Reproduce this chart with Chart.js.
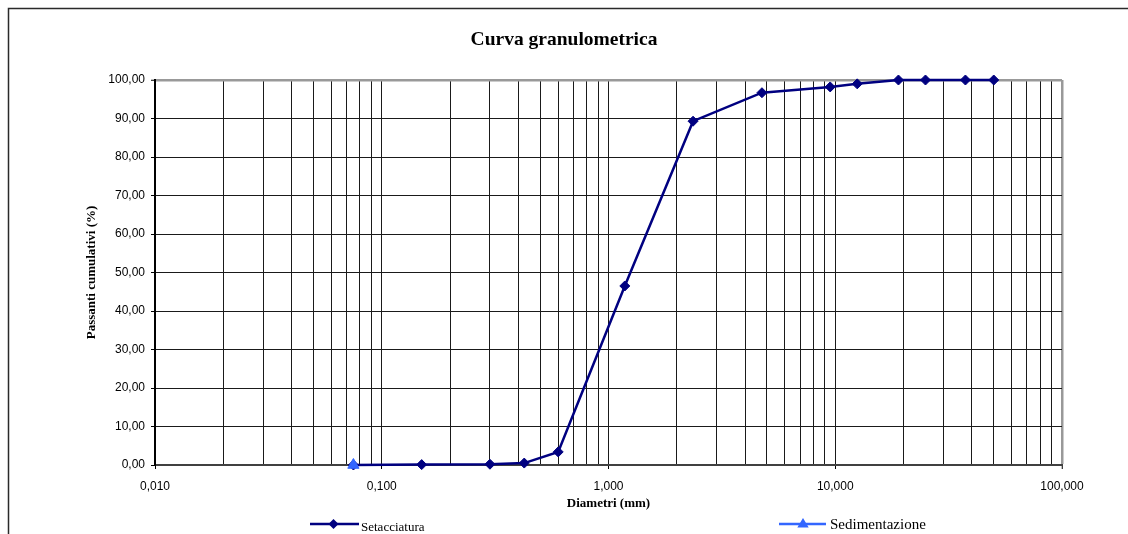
<!DOCTYPE html>
<html><head><meta charset="utf-8">
<script src="https://cdn.jsdelivr.net/npm/chart.js@4/dist/chart.umd.min.js"></script>
<style>html,body{margin:0;padding:0;background:#fff;overflow:hidden}#wrap{position:relative;width:1128px;height:534px}</style>
</head><body><div id="wrap"><canvas id="c" width="1128" height="534"></canvas></div>
<script>
const diametri = [0.075, 0.15, 0.3, 0.425, 0.6, 1.18, 2.36, 4.75, 9.5, 12.5, 19, 25, 37.5, 50];
const setacciatura = [0.0, 0.1, 0.2, 0.5, 3.4, 46.5, 89.3, 96.7, 98.2, 99.0, 100, 100, 100, 100];
const sedDiametri = [0.075];
const sedimentazione = [0.0];
const xTickValues = [0.01, 0.1, 1, 10, 100];
const xTickLabels = ['0,010', '0,100', '1,000', '10,000', '100,000'];
const xMinorSteps = [1, 2, 3, 4, 5, 6, 7, 8, 9];
const yTickValues = [0, 10, 20, 30, 40, 50, 60, 70, 80, 90, 100];
const yTickLabels = ['0,00', '10,00', '20,00', '30,00', '40,00', '50,00', '60,00', '70,00', '80,00', '90,00', '100,00'];
const seriesNames = ['Setacciatura', 'Sedimentazione'];

const NAVY = '#000080', BLUE = '#3366ff';
const xGridValues = [];
xTickValues.forEach((d, i) => {
  if (i === xTickValues.length - 1) { xGridValues.push(d); return; }
  xMinorSteps.forEach(m => xGridValues.push(+(d * m).toPrecision(6)));
});

function diamond(ctx, x, y, r) {
  ctx.beginPath(); ctx.moveTo(x, y - r); ctx.lineTo(x + r, y); ctx.lineTo(x, y + r); ctx.lineTo(x - r, y); ctx.closePath(); ctx.fill();
}
function triangle(ctx, x, y, r) {
  ctx.beginPath(); ctx.moveTo(x, y - r); ctx.lineTo(x + r * 0.95, y + r * 0.6); ctx.lineTo(x - r * 0.95, y + r * 0.6); ctx.closePath(); ctx.fill();
}

const decor = {
  id: 'decor',
  afterDraw(chart) {
    const ctx = chart.ctx;
    ctx.save();
    ctx.strokeStyle = '#2a2a2a'; ctx.lineWidth = 1.5;
    ctx.beginPath(); ctx.moveTo(8.5, 534); ctx.lineTo(8.5, 8.5); ctx.lineTo(1128, 8.5); ctx.stroke();
    // legend
    ctx.lineWidth = 2.5;
    ctx.strokeStyle = NAVY; ctx.fillStyle = NAVY;
    ctx.beginPath(); ctx.moveTo(310, 524); ctx.lineTo(359, 524); ctx.stroke();
    diamond(ctx, 333.5, 524, 5);
    ctx.fillStyle = '#000'; ctx.font = '13px "Liberation Serif"'; ctx.textBaseline = 'alphabetic';
    ctx.fillText(seriesNames[0], 361, 531);
    ctx.strokeStyle = BLUE; ctx.fillStyle = BLUE;
    ctx.beginPath(); ctx.moveTo(779, 524); ctx.lineTo(826, 524); ctx.stroke();
    triangle(ctx, 803, 524, 6);
    ctx.fillStyle = '#000'; ctx.font = '15px "Liberation Serif"';
    ctx.fillText(seriesNames[1], 830, 529);
    ctx.restore();
  }
};

new Chart(document.getElementById('c'), {
  type: 'line',
  data: {
    datasets: [
      {
        label: seriesNames[0],
        data: diametri.map((d, i) => ({x: d, y: setacciatura[i]})),
        borderColor: NAVY, backgroundColor: NAVY, borderWidth: 2.5,
        pointStyle: 'rectRot', pointRadius: 5, pointBorderWidth: 1,
        pointBackgroundColor: NAVY, pointBorderColor: NAVY,
        tension: 0, clip: false, order: 1
      },
      {
        label: seriesNames[1],
        data: sedDiametri.map((d, i) => ({x: d, y: sedimentazione[i]})),
        borderColor: BLUE, backgroundColor: BLUE, borderWidth: 2.5,
        pointStyle: 'triangle', pointRadius: 6.5, pointBorderWidth: 1,
        pointBackgroundColor: BLUE, pointBorderColor: BLUE,
        tension: 0, clip: false, order: 0
      }
    ]
  },
  options: {
    responsive: false, animation: false, events: [],
    layout: {padding: {left: 0, right: 0, top: 0, bottom: 0}},
    plugins: {
      legend: {display: false}, tooltip: {enabled: false},
      title: {
        display: true, text: 'Curva granulometrica', color: '#000',
        font: {family: '"Liberation Serif"', size: 19.5, weight: 'bold', lineHeight: 1.2},
        padding: {top: 28.3, bottom: 28.3}
      }
    },
    scales: {
      x: {
        type: 'logarithmic', position: 'bottom', min: 0.01, max: 100,
        afterBuildTicks: s => { s.ticks = xGridValues.map(v => ({value: v})); },
        afterFit: s => { s.height = 69; },
        ticks: {
          autoSkip: false, maxRotation: 0, minRotation: 0, padding: 10, color: '#000',
          font: {family: '"Liberation Sans"', size: 12},
          callback: v => { const i = xTickValues.indexOf(v); return i >= 0 ? xTickLabels[i] : ''; }
        },
        grid: {
          color: c => (c.tick && c.tick.value === 100) ? '#999' : '#1a1a1a',
          lineWidth: c => (c.tick && c.tick.value === 100) ? 2.5 : 1,
          tickColor: c => (c.tick && xTickValues.indexOf(c.tick.value) >= 0) ? '#000' : 'rgba(0,0,0,0)',
          tickWidth: 1, tickLength: 4, drawTicks: true
        },
        border: {color: '#404040', width: 2},
        title: {
          display: true, text: 'Diametri (mm)', color: '#000',
          font: {family: '"Liberation Serif"', size: 13, weight: 'bold', lineHeight: 1.2},
          padding: {top: 0, bottom: 22.2}
        }
      },
      y: {
        type: 'linear', position: 'left', min: 0, max: 100,
        afterBuildTicks: s => { s.ticks = yTickValues.map(v => ({value: v})); },
        afterFit: s => { s.width = 155; },
        ticks: {
          padding: 6, color: '#000',
          font: {family: '"Liberation Sans"', size: 12},
          callback: v => { const i = yTickValues.indexOf(v); return i >= 0 ? yTickLabels[i] : ''; }
        },
        grid: {
          color: c => (c.tick && c.tick.value === 100) ? '#999' : '#1a1a1a',
          lineWidth: c => (c.tick && c.tick.value === 100) ? 2.5 : 1,
          tickColor: '#000', tickWidth: 1, tickLength: 4
        },
        border: {color: '#000', width: 2},
        title: {
          display: true, text: 'Passanti cumulativi (%)', color: '#000',
          font: {family: '"Liberation Serif"', size: 13, weight: 'bold', lineHeight: 1.2},
          padding: {top: 84.2, bottom: 0}
        }
      },
      yRight: {
        type: 'linear', position: 'right', min: 0, max: 100, display: true,
        afterFit: s => { s.width = 66; },
        ticks: {display: false},
        grid: {display: false, drawTicks: false},
        border: {display: false},
        title: {display: false}
      }
    }
  },
  plugins: [decor]
});
</script>
</body></html>
